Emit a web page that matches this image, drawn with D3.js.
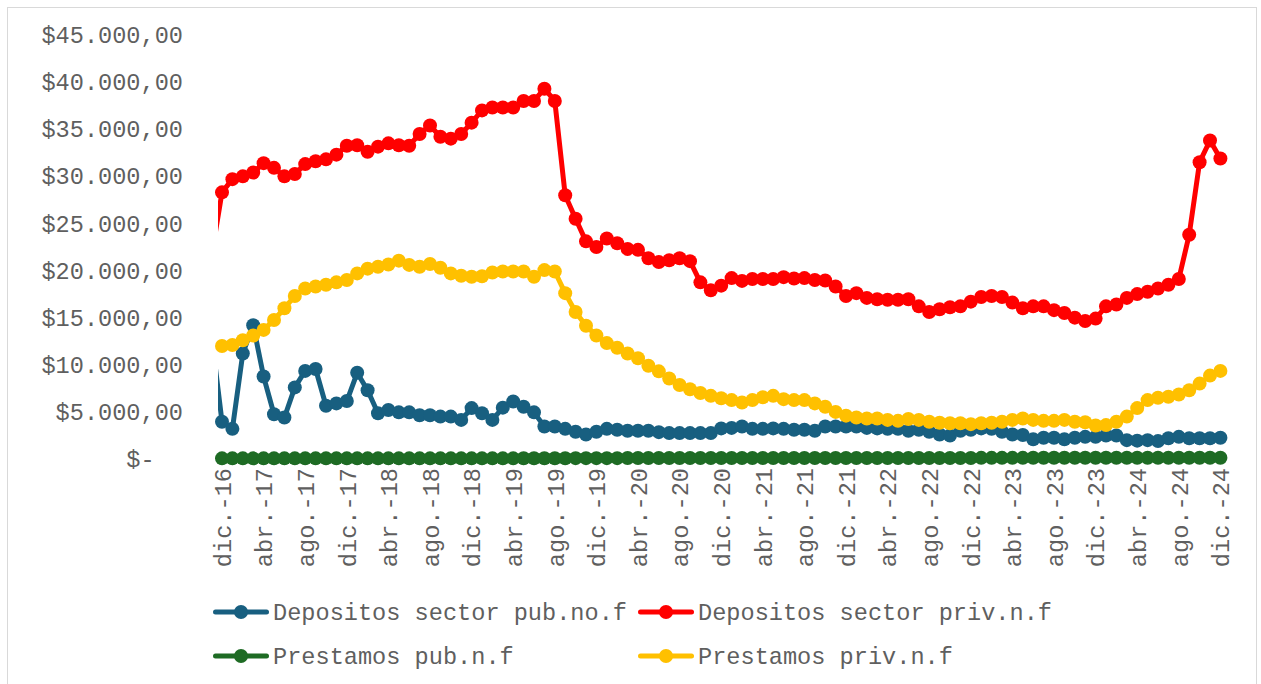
<!DOCTYPE html>
<html><head><meta charset="utf-8">
<script src="https://cdn.jsdelivr.net/npm/d3@7"></script>
<style>
html,body{margin:0;padding:0;background:#fff;}
svg{display:block;}
text{font-family:"Liberation Mono","Courier New",monospace;}
</style></head>
<body><svg id="chart" width="1261" height="684"></svg>
<script>
// Categories: monthly from nov.-16 (clipped at the plot edge) to dic.-24
const monthNames = ["ene.","feb.","mar.","abr.","may.","jun.","jul.","ago.","sept.","oct.","nov.","dic."];
const categories = [];
for (let y = 2016, m = 10; ; ) { categories.push(monthNames[m] + "-" + String(y).slice(2)); if (y === 2024 && m === 11) break; m++; if (m === 12) { m = 0; y++; } }
const tickLabels = ["dic.-16","abr.-17","ago.-17","dic.-17","abr.-18","ago.-18","dic.-18","abr.-19","ago.-19","dic.-19","abr.-20","ago.-20","dic.-20","abr.-21","ago.-21","dic.-21","abr.-22","ago.-22","dic.-22","abr.-23","ago.-23","dic.-23","abr.-24","ago.-24","dic.-24"];
const yTicks = [0,5000,10000,15000,20000,25000,30000,35000,40000,45000];

const seriesNames = ["Depositos sector pub.no.f","Depositos sector priv.n.f","Prestamos pub.n.f","Prestamos priv.n.f"];
const seriesColors = ["#185F80","#FF0000","#1E6B24","#FFC000"];

const depositosPub = [13000,3950,3200,11200,14200,8750,4750,4400,7600,9350,9550,5650,5900,6150,9150,7300,4850,5200,4950,4950,4650,4650,4500,4500,4150,5400,4850,4150,5450,6100,5550,4950,3450,3450,3200,2900,2600,2900,3200,3100,3000,3000,3000,2850,2750,2750,2750,2750,2750,3250,3300,3450,3200,3200,3250,3200,3100,3100,3000,3450,3450,3450,3450,3300,3250,3200,3200,3000,3100,2900,2600,2500,3000,3100,3250,3200,2900,2600,2550,2100,2250,2250,2100,2250,2350,2350,2500,2500,2000,1950,2000,1900,2200,2350,2200,2200,2200,2250];
const depositosPriv = [21600,28300,29700,30000,30400,31400,30900,30000,30250,31300,31600,31800,32300,33250,33300,32600,33150,33500,33300,33250,34500,35400,34200,34000,34500,35700,37000,37300,37300,37300,38000,38000,39300,38000,28000,25500,23100,22500,23400,22900,22300,22200,21300,20900,21100,21300,21000,18750,17900,18400,19200,18900,19100,19100,19100,19300,19150,19200,19000,18950,18300,17300,17600,17100,16950,16900,16900,16950,16200,15600,15900,16100,16200,16700,17200,17300,17200,16600,16000,16200,16200,15800,15500,15000,14650,14900,16200,16400,17100,17500,17750,18100,18500,19100,23800,31500,33800,31900];
const prestamosPub = [80,70,70,70,70,70,70,70,70,70,70,70,70,70,70,70,70,70,70,70,70,70,70,70,70,70,70,70,70,70,80,80,80,80,80,90,90,90,90,90,100,100,100,100,100,100,100,100,100,100,100,100,100,100,100,100,100,100,100,100,100,100,100,100,100,100,100,100,100,100,110,110,110,110,120,120,120,120,120,130,130,130,130,130,130,130,130,130,140,140,140,140,140,140,140,140,140,140];
const prestamosPriv = [12000,12000,12100,12600,13100,13700,14750,16000,17300,18100,18300,18500,18750,19000,19700,20200,20400,20650,21050,20600,20400,20700,20300,19700,19450,19350,19400,19800,19900,19900,19900,19350,20050,19900,17600,15600,14150,13100,12300,11800,11200,10700,9900,9300,8550,7850,7400,7000,6700,6450,6250,6000,6250,6550,6700,6350,6250,6250,5900,5550,5000,4600,4400,4300,4300,4150,4050,4250,4150,3950,3850,3800,3800,3700,3800,3850,3950,4150,4300,4150,4050,4050,4150,3950,3900,3550,3600,3950,4500,5400,6250,6500,6600,6850,7300,8000,8850,9350];

const seriesValues = [depositosPub, depositosPriv, prestamosPub, prestamosPriv];

const svg = d3.select("#chart");
const FONT = "'Liberation Mono','Courier New',monospace";
const TEXT_COLOR = "#5f5f5f";

// outer border
svg.append("rect").attr("x",7.5).attr("y",7.5).attr("width",1249).attr("height",690)
  .attr("fill","#fff").attr("stroke","#D9D9D9").attr("stroke-width",1);

const x = d3.scalePoint().domain(categories).range([211.6, 1220.4]);
const y = d3.scaleLinear().domain([0,45000]).range([459,35]);

const locale = d3.formatLocale({decimal:",", thousands:".", grouping:[3], currency:["$",""]});
const fmt = locale.format("$,.2f");

// Y axis
const yAxis = svg.append("g").attr("transform","translate(190,0)")
  .call(d3.axisLeft(y).tickValues(yTicks).tickSize(0).tickPadding(7).tickFormat(d => d === 0 ? "$-" : fmt(d)));
yAxis.select(".domain").remove();
yAxis.selectAll("text").attr("fill",TEXT_COLOR).style("font-size","23.6px")
  .style("font-family",FONT)
  .attr("dx", d => d === 0 ? "-1.2em" : 0);

// X axis
const xAxis = svg.append("g").attr("transform","translate(0,462)")
  .call(d3.axisBottom(x).tickValues(tickLabels).tickSize(0).tickPadding(0));
xAxis.select(".domain").remove();
xAxis.selectAll("text").attr("fill",TEXT_COLOR).style("font-size","23.6px")
  .style("font-family",FONT)
  .attr("text-anchor","end").attr("transform","rotate(-90)")
  .attr("x",-6).attr("y",0).attr("dy","0.35em");

// clip for lines at plot area's left edge
svg.append("defs").append("clipPath").attr("id","plotclip")
  .append("rect").attr("x",218).attr("y",0).attr("width",1040).attr("height",480);

const linesG = svg.append("g").attr("clip-path","url(#plotclip)");
const markersG = svg.append("g");
const line = d3.line().x((d,i) => x(categories[i])).y(d => y(d));

seriesValues.forEach((vals,s) => {
  linesG.append("path").datum(vals).attr("d", line).attr("fill","none")
    .attr("stroke", seriesColors[s]).attr("stroke-width",5).attr("stroke-linejoin","round");
});
seriesValues.forEach((vals,s) => {
  markersG.append("g").selectAll("circle")
    .data(vals.map((v,i) => ({v, c: categories[i]})).filter(d => x(d.c) >= 218))
    .join("circle")
    .attr("cx", d => x(d.c)).attr("cy", d => y(d.v)).attr("r",7)
    .attr("fill", seriesColors[s]);
});

// Legend
const legendPos = [[213,612],[638,612],[213,656],[638,656]];
seriesNames.forEach((n,s) => {
  const [lx,ly] = legendPos[s];
  const g = svg.append("g");
  g.append("line").attr("x1",lx+2.5).attr("x2",lx+53.5).attr("y1",ly).attr("y2",ly)
    .attr("stroke",seriesColors[s]).attr("stroke-width",5).attr("stroke-linecap","round");
  g.append("circle").attr("cx",lx+28).attr("cy",ly).attr("r",7).attr("fill",seriesColors[s]);
  g.append("text").attr("x",lx+60).attr("y",ly).attr("dy","0.35em").attr("fill",TEXT_COLOR)
    .style("font-size","23.6px").text(n);
});
</script></body></html>
